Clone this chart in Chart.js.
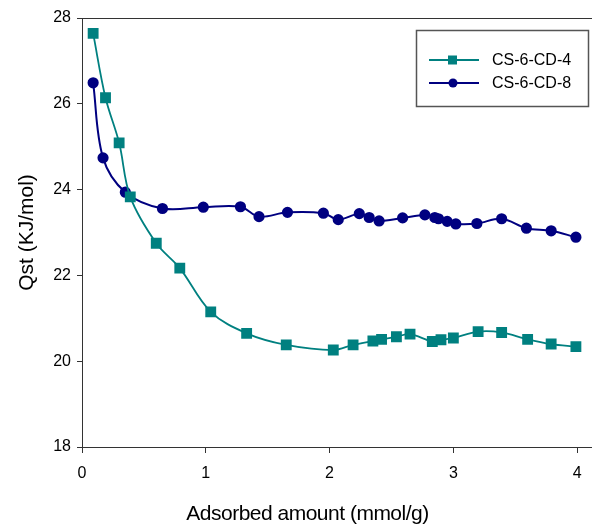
<!DOCTYPE html>
<html>
<head>
<meta charset="utf-8">
<script src="https://cdn.jsdelivr.net/npm/chart.js@4"></script>
<style>
  html, body { margin: 0; padding: 0; background: #fff; }
  #wrap { width: 592px; height: 530px; }
</style>
</head>
<body>
<div id="wrap"><canvas id="qstChart" width="592" height="530"></canvas></div>
<script>
// data
var cd4X = [0.09, 0.19, 0.30, 0.39, 0.60, 0.79, 1.04, 1.33, 1.65, 2.03, 2.19, 2.35, 2.42, 2.54, 2.65, 2.83, 2.90, 3.00, 3.20, 3.39, 3.60, 3.79, 3.99];
var cd4Y = [27.64, 26.14, 25.09, 23.83, 22.75, 22.17, 21.15, 20.65, 20.38, 20.26, 20.38, 20.47, 20.51, 20.57, 20.63, 20.46, 20.50, 20.54, 20.69, 20.67, 20.51, 20.40, 20.34];
var cd8X = [0.09, 0.17, 0.35, 0.65, 0.98, 1.28, 1.43, 1.66, 1.95, 2.07, 2.24, 2.32, 2.40, 2.59, 2.77, 2.85, 2.88, 2.95, 3.02, 3.19, 3.39, 3.59, 3.79, 3.99];
var cd8Y = [26.49, 24.74, 23.94, 23.56, 23.59, 23.60, 23.37, 23.47, 23.45, 23.30, 23.44, 23.35, 23.27, 23.34, 23.41, 23.35, 23.32, 23.26, 23.20, 23.21, 23.32, 23.10, 23.04, 22.89];
var xTicks = [0, 1, 2, 3, 4];
var yTicks = [18, 20, 22, 24, 26, 28];
var seriesNames = ['CS-6-CD-4', 'CS-6-CD-8'];
var xTitle = 'Adsorbed amount (mmol/g)';

function toPoints(xs, ys) {
    return xs.map(function (x, i) { return { x: x, y: ys[i] }; });
}

var frameAndLegend = {
    id: 'frameAndLegend',
    afterDraw: function (chart) {
        var c = chart.ctx, a = chart.chartArea;
        c.save();
        // top frame line
        c.strokeStyle = '#333';
        c.lineWidth = 1;
        c.beginPath();
        c.moveTo(a.left, a.top + 0.5);
        c.lineTo(a.right, a.top + 0.5);
        c.stroke();

        // x axis title, sits a bit left of the plot centre in the original
        c.font = '21px "Liberation Sans", Arial, sans-serif';
        c.letterSpacing = '-0.5px';
        c.textAlign = 'center';
        c.textBaseline = 'alphabetic';
        c.fillStyle = '#000';
        c.fillText(xTitle, 307.5, 520);
        c.letterSpacing = '0px';
        c.textAlign = 'left';

        // legend box
        c.strokeStyle = '#555';
        c.lineWidth = 1.5;
        c.strokeRect(416.5, 30.5, 172, 76);
        c.font = '16px "Liberation Sans", Arial, sans-serif';
        c.textBaseline = 'middle';
        chart.data.datasets.forEach(function (ds, i) {
            var y = 60 + i * 23;
            c.strokeStyle = ds.borderColor;
            c.lineWidth = ds.borderWidth;
            c.beginPath();
            c.moveTo(429, y);
            c.lineTo(479, y);
            c.stroke();
            c.fillStyle = ds.pointBackgroundColor;
            if (ds.pointStyle === 'rect') {
                c.fillRect(448, y - 4.5, 9, 9);
            } else {
                c.beginPath();
                c.arc(453, y, 4.5, 0, Math.PI * 2);
                c.fill();
            }
            c.fillStyle = '#000';
            c.fillText(ds.label, 492, y + 1);
        });
        c.restore();
    }
};

var ctx = document.getElementById('qstChart').getContext('2d');
var myChart = new Chart(ctx, {
    type: 'line',
    data: {
        datasets: [{
            label: seriesNames[0],
            data: toPoints(cd4X, cd4Y),
            borderColor: '#008080',
            backgroundColor: '#008080',
            pointBackgroundColor: '#008080',
            pointBorderColor: '#008080',
            pointStyle: 'rect',
            pointRadius: 6.4,
            borderWidth: 1.8,
            tension: 0.35
        },
        {
            label: seriesNames[1],
            data: toPoints(cd8X, cd8Y),
            borderColor: '#000080',
            backgroundColor: '#000080',
            pointBackgroundColor: '#000080',
            pointBorderColor: '#000080',
            pointStyle: 'circle',
            pointRadius: 4.6,
            borderWidth: 2,
            tension: 0.35
        }]
    },
    options: {
        responsive: false,
        animation: false,
        layout: { padding: 0, autoPadding: false },
        plugins: {
            legend: { display: false },
            tooltip: { enabled: false }
        },
        scales: {
            x: {
                type: 'linear',
                min: 0,
                max: 4.12,
                afterBuildTicks: function (s) { s.ticks = xTicks.map(function (v) { return { value: v }; }); },
                afterFit: function (s) { s.height = 83; s.paddingLeft = 0; s.paddingRight = 0; },
                grid: { display: true, drawOnChartArea: false, drawTicks: true, tickLength: 6, color: '#333' },
                border: { color: '#333', width: 1 },
                ticks: {
                    color: '#000',
                    padding: 11,
                    maxRotation: 0,
                    font: { family: '"Liberation Sans", Arial, sans-serif', size: 16 }
                },
                title: { display: false }
            },
            y: {
                min: 18,
                max: 28,
                afterBuildTicks: function (s) { s.ticks = yTicks.map(function (v) { return { value: v }; }); },
                afterFit: function (s) { s.width = 82; s.paddingTop = 18; s.paddingBottom = 0; },
                grid: { display: true, drawOnChartArea: false, drawTicks: true, tickLength: 5, color: '#333' },
                border: { color: '#333', width: 1 },
                ticks: {
                    color: '#000',
                    padding: 6,
                    font: { family: '"Liberation Sans", Arial, sans-serif', size: 16 }
                },
                title: {
                    display: true,
                    text: 'Qst (KJ/mol)',
                    color: '#000',
                    padding: { top: 16, bottom: 0 },
                    font: { family: '"Liberation Sans", Arial, sans-serif', size: 21, lineHeight: 1.1 }
                }
            }
        }
    },
    plugins: [frameAndLegend]
});
</script>
</body>
</html>
